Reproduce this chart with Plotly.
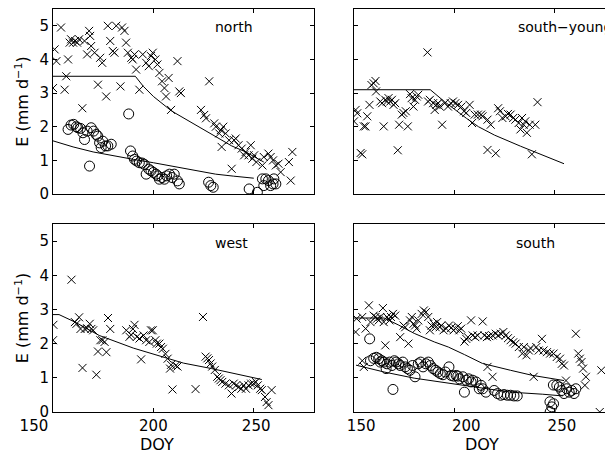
import plotly.graph_objects as go
from plotly.subplots import make_subplots

# ---- data (DOY, E in mm/d) ----
north_cross = [(150, 3.15), (150.8, 4.3), (151.7, 3.95), (154, 4.95), (155.8, 3.1), (156.6, 3.5),
               (157.5, 4.0), (158.3, 4.5), (159, 4.6), (160, 4.5), (161, 4.55), (162, 4.5), (163, 4.6),
               (164.6, 2.55), (165.7, 4.55), (167, 4.15), (168, 4.85), (168.5, 4.7), (169, 4.4),
               (170.7, 4.2), (172.4, 3.25), (173.5, 4.05), (174.5, 3.9), (176.5, 2.9), (177.3, 5.0),
               (178.5, 4.55), (179.8, 4.25), (180.6, 4.2), (181.5, 5.0), (183.6, 3.2), (184.4, 4.95),
               (185.6, 4.85), (186.4, 4.5), (187.3, 4.2), (189, 4.05), (189.7, 4.0), (190.6, 4.15),
               (191.4, 3.7), (193, 3.1), (194.7, 4.15), (196.4, 3.9), (197.7, 3.8), (198.8, 4.1),
               (199.7, 4.2), (201, 4.0), (202, 3.85), (203, 3.6), (204.3, 3.35), (205.5, 3.15),
               (206.3, 2.9), (207.6, 3.45), (208.8, 2.5), (212, 3.95), (212.9, 3.05), (213.7, 3.0),
               (223.7, 2.5), (225.3, 2.35), (226.2, 2.25), (227.8, 3.35), (230.3, 2.1), (231.1, 2.0),
               (232.8, 1.8), (233.6, 1.9), (234.8, 2.0), (234, 1.4), (236, 1.8), (237.7, 1.6),
               (239, 0.75), (240.2, 1.6), (241, 1.65), (242.4, 1.45), (244, 1.35), (245.2, 1.15),
               (246, 1.25), (247.4, 1.15), (248.5, 1.45), (249.3, 1.05), (250.2, 1.15), (251.3, 0.95),
               (254.3, 0.85), (255, 1.1), (257.3, 1.2), (258.4, 1.1), (259.6, 1.0), (261, 0.85),
               (262.3, 0.9), (263.4, 0.65), (267.5, 0.95), (268.4, 0.4), (269.2, 1.25)]
north_circ = [(157.5, 1.92), (159, 2.05), (160.3, 2.07), (161.6, 2.0), (162.4, 1.97), (163.7, 1.95),
              (164.9, 1.82), (165.7, 1.62), (167, 1.87), (168.2, 0.83), (169, 1.97), (170.2, 1.87),
              (171.5, 1.77), (172.3, 1.72), (173.2, 1.52), (174, 1.38), (174.8, 1.57), (176.2, 1.43),
              (177.3, 1.43), (179, 1.48), (187.7, 2.38), (188.6, 1.28), (189.7, 1.13), (190.6, 1.03),
              (191.7, 0.98), (193, 0.93), (194.4, 0.92), (195.5, 0.88), (196.4, 0.59), (197.7, 0.74),
              (198.8, 0.69), (200, 0.64), (201.3, 0.59), (202.1, 0.54), (203, 0.44), (204.3, 0.49),
              (205.5, 0.44), (206.6, 0.54), (208, 0.59), (209.3, 0.49), (210.4, 0.59), (212, 0.39),
              (212.9, 0.3), (227.5, 0.35), (228.6, 0.25), (229.8, 0.2), (247.7, 0.15), (251.8, 0.05),
              (254.3, 0.45), (255, 0.25), (256, 0.45), (257.3, 0.4), (258.4, 0.25), (259.6, 0.3),
              (260, 0.45), (261, 0.3)]
north_fit_hi = [(150, 3.5), (191, 3.5), (195, 3.2), (200, 2.9), (209, 2.47), (213, 2.33), (223, 1.97),
                (229, 1.77), (239, 1.43), (246, 1.25), (254, 0.97), (255, 0.95)]
north_fit_lo = [(150, 1.58), (160, 1.4), (170, 1.25), (180, 1.13), (190, 1.03), (200, 0.93),
                (213, 0.79), (222, 0.7), (231, 0.59), (240, 0.53), (250, 0.47)]

young_cross = [(150, 2.16), (150.8, 2.5), (151.6, 2.4), (153.3, 1.22), (154.1, 1.18), (154.9, 2.01),
               (155.7, 2.01), (156.6, 2.31), (157.7, 2.65), (158.7, 3.24), (159.8, 3.29), (160.7, 3.36),
               (161, 3.05), (163.1, 2.75), (164, 2.7), (164.8, 2.01), (165.6, 2.8), (166.4, 2.75),
               (167.2, 2.85), (168.1, 2.75), (168.9, 2.8), (169.7, 2.65), (170.5, 2.7), (171.8, 1.3),
               (172.5, 2.06), (173.8, 2.36), (174.6, 2.41), (175.8, 2.46), (176.8, 2.01), (177.9, 2.97),
               (178.7, 2.85), (179.6, 2.6), (180.4, 2.8), (181.2, 2.9), (182, 2.95), (186.6, 4.21),
               (186.9, 2.75), (187.8, 2.8), (189.4, 2.7), (190.2, 2.5), (191, 2.65), (191.9, 2.7),
               (192.7, 2.6), (193.9, 2.06), (195.2, 2.7), (196.8, 2.6), (198.2, 2.7), (199.3, 2.75),
               (200.5, 2.7), (201.8, 2.65), (203.5, 2.6), (204.8, 2.46), (205.9, 2.41), (207.6, 2.65),
               (208.8, 2.11), (210.1, 2.36), (211.7, 2.36), (213.3, 2.36), (214, 2.31), (216.5, 2.21),
               (218.1, 2.06), (216.5, 1.31), (220.6, 1.21), (221.8, 2.55), (222.7, 2.46), (223.9, 2.26),
               (225.5, 2.31), (226.7, 2.38), (228, 2.36), (229.3, 2.26), (230.4, 2.21), (232, 2.11),
               (232.9, 1.92), (233.7, 2.26), (234.5, 2.06), (235.3, 2.16), (236.1, 1.82), (237.5, 2.06),
               (238.6, 1.18), (240.3, 2.06), (241.4, 2.73)]
young_fit = [(150, 3.1), (188, 3.1), (195, 2.75), (200, 2.52), (206, 2.25), (212, 2.0), (220, 1.75),
             (233, 1.42), (245, 1.12), (254.6, 0.9)]

west_cross = [(150, 2.1), (150.2, 2.55), (159.2, 3.87), (160.9, 2.63), (161.7, 2.58), (163, 2.77),
              (163.7, 2.43), (164.7, 1.29), (165.8, 2.43), (167, 2.45), (168.3, 2.58), (169.1, 2.43),
              (170, 2.39), (171.6, 1.09), (172.4, 1.77), (173.6, 2.1), (174.6, 2.1), (175.7, 2.05),
              (176.6, 1.75), (177.4, 2.75), (178.5, 2.43), (186.5, 2.39), (188.1, 2.2), (188.9, 2.26),
              (189.8, 2.43), (190.6, 2.55), (191.8, 2.2), (193.1, 2.15), (193.9, 1.54), (195.1, 2.24),
              (196.4, 2.1), (198, 2.05), (198.8, 2.39), (199.7, 2.39), (201, 2.1), (201.7, 2.0),
              (203, 2.0), (203.8, 1.9), (204.7, 1.85), (206, 1.7), (207.1, 1.56), (208.3, 1.27),
              (208.8, 1.38), (209.5, 0.66), (211.2, 1.36), (212, 1.33), (221, 0.67), (224.7, 2.78),
              (226, 1.62), (226.9, 1.57), (227.7, 1.52), (228.5, 1.42), (229.3, 1.33), (230.6, 1.23),
              (231.8, 1.03), (232.6, 0.98), (233.4, 0.93), (234.3, 0.88), (235.9, 0.83), (237.6, 0.78),
              (238.9, 0.54), (240, 0.83), (241.2, 0.78), (242.5, 0.73), (243.8, 0.68), (245, 0.78),
              (246.1, 0.68), (247.4, 0.78), (248.7, 0.83), (249.9, 0.83), (251, 0.88), (252, 0.78),
              (253.2, 0.68), (254, 0.64), (255.6, 0.44), (256.4, 0.29), (257.3, 0.2), (258.9, 0.64)]
west_fit = [(150, 2.85), (153, 2.85), (161, 2.63), (173, 2.24), (190, 1.87), (206, 1.6), (215, 1.43),
            (229, 1.27), (240, 1.12), (254, 0.95)]

south_cross = [(150.8, 2.34), (151.3, 2.73), (154.1, 2.78), (154.1, 1.5), (154.9, 1.32), (155.8, 2.44),
               (157.4, 3.12), (158.2, 2.63), (159.8, 2.82), (160.7, 2.78), (161.5, 2.73), (162.3, 2.68),
               (163.1, 2.78), (164.4, 3.04), (164.8, 2.63), (165.6, 1.95), (166.4, 2.78), (167.7, 2.68),
               (168.4, 2.78), (169.4, 2.87), (170.5, 2.82), (173, 2.19), (174.7, 2.53), (175.5, 2.48),
               (177.1, 2.0), (177.9, 2.68), (178.8, 2.78), (179.6, 2.58), (180.4, 2.53), (181.2, 2.44),
               (182, 2.68), (183.7, 2.87), (184.8, 2.97), (185.8, 2.92), (187, 2.78), (187.8, 2.39),
               (188.6, 2.53), (189.7, 2.58), (190.7, 2.48), (191.4, 2.63), (192.7, 2.48), (193.5, 2.53),
               (194.6, 2.39), (195.9, 2.44), (197.3, 2.53), (198.4, 2.46), (199.6, 2.39), (200.5, 2.44),
               (201.7, 2.51), (202.5, 2.39), (203.4, 2.44), (205, 2.06), (205.9, 2.14), (206.7, 2.19),
               (208.3, 2.68), (209.1, 2.24), (210.4, 2.19), (211.6, 2.24), (214.1, 2.65), (214.9, 2.24),
               (216.2, 2.19), (217.3, 2.22), (216.5, 1.32), (219, 1.03), (219, 2.24), (220.6, 2.29),
               (221.8, 2.24), (223.1, 2.29), (224.4, 2.34), (225.6, 2.24), (226.7, 2.16), (228, 2.1),
               (229.3, 2.04), (230.5, 2.0), (232.1, 1.9), (233.8, 1.71), (234.6, 1.9), (235.9, 1.66),
               (237.1, 1.8), (237.9, 1.87), (239.5, 1.03), (240.8, 1.9), (242, 1.8), (243.6, 2.14),
               (244.4, 1.8), (246.1, 1.75), (247.7, 1.71), (249.4, 1.71), (251, 1.61), (252.6, 1.56),
               (253.5, 1.41), (254.6, 1.36), (255.6, 0.92), (260.5, 2.29), (261.7, 1.71), (262.5, 1.56),
               (263.3, 1.46), (264.1, 1.27), (265.5, 1.03), (265, 0.78), (273.2, 1.22), (272.4, 0.0)]
south_circ = [(157.8, 2.14), (158.2, 1.5), (159.8, 1.57), (161.1, 1.6), (162.3, 1.56), (163.1, 1.46),
              (163.9, 1.5), (164.8, 1.46), (166, 1.27), (166.4, 1.41), (167.7, 1.46), (168.9, 1.36),
              (169.4, 0.66), (170.1, 1.5), (171, 1.46), (172.2, 1.41), (173, 1.36), (174.3, 1.46),
              (175.5, 1.32), (176.6, 1.27), (177.9, 1.22), (179.2, 1.36), (180.4, 1.03), (182, 1.41),
              (183.2, 1.46), (184.4, 1.32), (185.8, 1.41), (187, 1.46), (188.1, 1.36), (189.4, 1.27),
              (190.7, 1.22), (191.8, 1.17), (193, 1.12), (194.3, 1.09), (195.5, 1.17), (197.3, 1.32),
              (198.4, 1.07), (199.6, 1.05), (200.9, 1.07), (201.7, 1.05), (202.5, 0.97), (204.2, 1.03),
              (205, 0.58), (205.9, 0.93), (207.1, 0.97), (208.3, 0.88), (209.1, 0.93), (210.8, 0.88),
              (212.4, 0.68), (213.3, 0.78), (214.1, 0.68), (215.7, 0.58), (219.8, 0.63), (221.5, 0.54),
              (223.1, 0.49), (224.7, 0.51), (226.4, 0.49), (228, 0.49), (229.7, 0.47), (231.3, 0.47),
              (247.6, 0.3), (247.7, 0.0), (248.5, 0.15), (249.4, 0.24), (249.3, 0.79), (251, 0.78),
              (252.3, 0.73), (253.5, 0.63), (254.6, 0.54), (255.9, 0.68), (257.2, 0.58), (258.4, 0.63),
              (259.6, 0.54), (260.5, 0.68)]
south_fit_hi = [(150, 2.75), (165, 2.75), (172, 2.55), (180, 2.3), (190, 2.05), (197, 1.9), (205, 1.68),
                (214, 1.42), (228, 1.22), (239, 1.07), (254.6, 0.92)]
south_fit_lo = [(151, 1.37), (165, 1.17), (180, 0.99), (197, 0.85), (212, 0.73), (228, 0.58),
                (244, 0.52), (254, 0.47)]

labels = ['north', 'south\u2212young', 'west', 'south']
x_ticks = [150, 200, 250]
y_ticks = [0, 1, 2, 3, 4, 5]

FONT = 'DejaVu Sans, sans-serif'
NB = '\u00a0'

fig = make_subplots(rows=2, cols=2)


def add_pts(pts, r, c, symbol, size):
    fig.add_trace(go.Scatter(x=[p[0] for p in pts], y=[p[1] for p in pts], mode='markers',
                             marker=dict(symbol=symbol, size=size, color='black',
                                         line=dict(color='black', width=1)),
                             showlegend=False), row=r, col=c)


def add_line(pts, r, c):
    fig.add_trace(go.Scatter(x=[p[0] for p in pts], y=[p[1] for p in pts], mode='lines',
                             line=dict(color='black', width=1), showlegend=False), row=r, col=c)


add_pts(north_cross, 1, 1, 'x-thin-open', 8)
add_pts(north_circ, 1, 1, 'circle-open', 10)
add_line(north_fit_hi, 1, 1)
add_line(north_fit_lo, 1, 1)

add_pts(young_cross, 1, 2, 'x-thin-open', 8)
add_line(young_fit, 1, 2)

add_pts(west_cross, 2, 1, 'x-thin-open', 8)
add_line(west_fit, 2, 1)

add_pts(south_cross, 2, 2, 'x-thin-open', 8)
add_pts(south_circ, 2, 2, 'circle-open', 10)
add_line(south_fit_hi, 2, 2)
add_line(south_fit_lo, 2, 2)

# the page puts the figure 8 px in from the top-left, so positions are shifted back by that
W, H = 613, 457
OFF = 8


def fx(px):
    return (px - OFF) / W


def fy(py):
    return 1 - (py - OFF) / H


xdom_l = [fx(53), fx(314)]
xdom_r = [fx(354), fx(615)]
ydom_t = [fy(194), fy(9)]
ydom_b = [fy(412), fy(224)]

axis_common = dict(showline=True, linecolor='black', linewidth=1, ticks='inside', ticklen=4,
                   tickcolor='black', showgrid=False, zeroline=False, automargin=False,
                   tickfont=dict(family=FONT, size=15, color='black'))

# tick labels sit a little off their ticks in the original, as if placed by hand
text_l = ['150' + NB * 8, '200', NB + '250']
text_r = [NB * 3 + '150', NB * 5 + '200', NB * 3 + '250']

for name, dom, labs, ttext in [('xaxis', xdom_l, False, text_l), ('xaxis2', xdom_r, False, text_r),
                               ('xaxis3', xdom_l, True, text_l), ('xaxis4', xdom_r, True, text_r)]:
    fig.layout[name].update(domain=dom, range=[150, 280], tickvals=x_ticks, ticktext=ttext,
                            mirror='ticks', showticklabels=labs, **axis_common)

for name, dom, left in [('yaxis', ydom_t, True), ('yaxis2', ydom_t, False),
                        ('yaxis3', ydom_b, True), ('yaxis4', ydom_b, False)]:
    fig.layout[name].update(domain=dom, range=[0, 5.5], tickvals=y_ticks,
                            mirror='ticks' if left else False, showticklabels=left, **axis_common)
    if left:
        fig.layout[name].update(title=dict(text='E (mm d<sup>\u22121</sup>)',
                                           font=dict(family=FONT, size=16, color='black'),
                                           standoff=6))

# DOY titles, placed where the original puts them
for px, py in [(157, 444), (482, 444)]:
    fig.add_annotation(text='DOY', x=fx(px), y=fy(py), xref='paper', yref='paper',
                       xanchor='center', yanchor='middle', showarrow=False,
                       font=dict(family=FONT, size=16, color='black'))

# panel labels
for i, (txt, xpos) in enumerate(zip(labels, [240, 255, 239, 240.5])):
    ref = '' if i == 0 else str(i + 1)
    fig.add_annotation(text=txt, x=xpos, y=4.95, xref='x' + ref, yref='y' + ref, showarrow=False,
                       xanchor='center', yanchor='middle',
                       font=dict(family=FONT, size=14, color='black'))

fig.update_layout(width=W, height=H, margin=dict(l=0, r=0, t=0, b=0),
                  plot_bgcolor='white', paper_bgcolor='white')

fig.write_html("out.html")
